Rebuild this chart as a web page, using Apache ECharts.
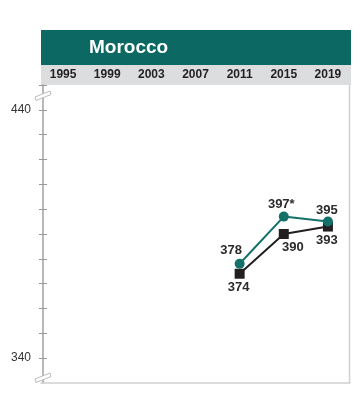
<!DOCTYPE html>
<html>
<head>
<meta charset="utf-8">
<script src="https://cdn.jsdelivr.net/npm/echarts@6/dist/echarts.min.js"></script>
<style>
html,body{margin:0;padding:0;background:#fff;}
#c{width:363px;height:398px;}
</style>
</head>
<body>
<div id="c"></div>
<script>
var years = ['1995','1999','2003','2007','2011','2015','2019'];
var moroccoScores = [null, null, null, null, 378, 397, 395];
var moroccoLabels = ['', '', '', '', '378', '397*', '395'];
var otherScores = [null, null, null, null, 374, 390, 393];
var otherLabels = ['', '', '', '', '374', '390', '393'];
var yTickValues = [340, 350, 360, 370, 380, 390, 400, 410, 420, 430, 440, 450];
var yLabelValues = [340, 440];
var countryName = 'Morocco';

var tealOffsets = {4: [-8.5, -13], 5: [-2.5, -12.5], 6: [-1, -11]};
var blackOffsets = {4: [-1, 13.5], 5: [9, 13], 6: [-1, 14]};

function buildData(values, labels, offsets) {
  return values.map(function (v, i) {
    if (v == null) return null;
    return {
      value: v,
      label: {
        show: true,
        position: 'inside',
        align: 'center',
        verticalAlign: 'middle',
        offset: offsets[i],
        formatter: labels[i],
        fontFamily: 'Liberation Sans, Arial, sans-serif',
        fontWeight: 'bold',
        fontSize: 13,
        color: '#2b2b2b'
      }
    };
  });
}

var chart = echarts.init(document.getElementById('c'), null, {renderer: 'canvas'});
var gridDef = {left: 41, right: 13, top: 85, bottom: 15};
var font = 'Liberation Sans, Arial, sans-serif';

function breakMark(cx, cy) {
  return {
    type: 'polygon',
    shape: {points: [[cx - 8, cy + 1], [cx + 7, cy - 5], [cx + 8, cy - 1.5], [cx - 7, cy + 4.5]]},
    style: {fill: '#fff', stroke: '#bbb', lineWidth: 1},
    z: 100
  };
}

chart.setOption({
  animation: false,
  grid: [gridDef, gridDef],
  graphic: [
    {type: 'rect', shape: {x: 41, y: 30, width: 310, height: 35}, style: {fill: '#0c6862'}, z: -10},
    {type: 'rect', shape: {x: 41, y: 65, width: 310, height: 20}, style: {fill: '#dcdddf'}, z: -10},
    {type: 'text', x: 89, y: 48, style: {text: countryName, fill: '#fff', font: 'bold 19px ' + font, textVerticalAlign: 'middle'}, z: 10},
    {type: 'line', shape: {x1: 349.5, y1: 85, x2: 349.5, y2: 383}, style: {stroke: '#d0d0d0', lineWidth: 1.5}, z: 5},
    breakMark(43, 96),
    breakMark(43, 378)
  ],
  xAxis: [
    {
      type: 'category', data: years, gridIndex: 0, position: 'top',
      axisLine: {show: false}, axisTick: {show: false},
      axisLabel: {margin: 4, color: '#231f20', fontFamily: font, fontWeight: 'bold', fontSize: 12}
    },
    {
      type: 'category', data: years, gridIndex: 0, position: 'bottom',
      axisLine: {show: true, lineStyle: {color: '#d0d0d0', width: 1.5}},
      axisTick: {show: false}, axisLabel: {show: false}
    },
    {
      type: 'category', data: years, gridIndex: 1, show: false
    }
  ],
  yAxis: [
    {
      type: 'value', gridIndex: 0, min: 330, max: 450, offset: -2,
      splitLine: {show: false},
      axisLine: {show: true, lineStyle: {color: '#a0a0a0', width: 1.5}},
      axisTick: {show: true, length: 4, inside: false, customValues: yTickValues, lineStyle: {color: '#999', width: 1}},
      axisLabel: {show: true, customValues: yLabelValues, margin: 12, color: '#333', fontFamily: font, fontSize: 12}
    },
    {
      type: 'value', gridIndex: 1, min: 330, max: 450, offset: -2, position: 'left',
      splitLine: {show: false},
      axisLine: {show: false},
      axisTick: {show: true, length: 4, inside: true, customValues: yTickValues, lineStyle: {color: '#999', width: 1}},
      axisLabel: {show: false}
    }
  ],
  series: [
    {
      type: 'line', xAxisIndex: 0, yAxisIndex: 0,
      data: buildData(otherScores, otherLabels, blackOffsets),
      symbol: 'rect', symbolSize: 10,
      lineStyle: {color: '#231f20', width: 2},
      itemStyle: {color: '#231f20'},
      z: 3
    },
    {
      type: 'line', xAxisIndex: 0, yAxisIndex: 0,
      data: buildData(moroccoScores, moroccoLabels, tealOffsets),
      symbol: 'circle', symbolSize: 10,
      lineStyle: {color: '#13716a', width: 2},
      itemStyle: {color: '#13716a'},
      z: 4
    }
  ]
});
</script>
</body>
</html>
